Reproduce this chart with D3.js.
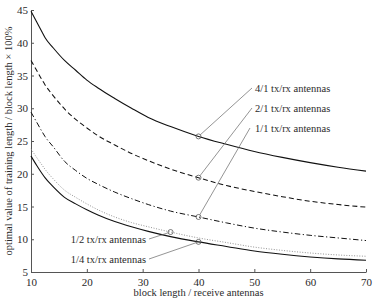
<!DOCTYPE html>
<html>
<head>
<meta charset="utf-8">
<script src="https://cdn.jsdelivr.net/npm/d3@7"></script>
<style>
  html, body { margin: 0; padding: 0; background: #fff; }
  svg { display: block; }
  text { font-family: "Liberation Serif", "Times New Roman", serif; fill: #2a2a2a; }
</style>
</head>
<body>
<svg id="chart" width="374" height="299"></svg>
<script>
// ---- data ----
const blockLength = [10, 11, 12, 12.5, 14, 16, 18, 20, 22, 25, 28, 31, 35, 40, 45, 50, 55, 60, 65, 70];
const ratio4to1 = [44.8, 43.2, 41.6, 40.8, 39.2, 37.3, 35.8, 34.3, 33.1, 31.5, 30.0, 28.6, 27.2, 25.7, 24.5, 23.4, 22.5, 21.7, 21.0, 20.4];
const ratio2to1 = [37.3, 35.8, 34.3, 33.6, 31.9, 29.9, 28.3, 27.0, 25.8, 24.4, 23.1, 22.0, 20.7, 19.4, 18.2, 17.3, 16.5, 15.8, 15.3, 14.9];
const ratio1to1 = [29.4, 27.9, 26.4, 25.7, 24.1, 21.9, 20.5, 19.3, 18.4, 17.2, 16.2, 15.3, 14.3, 13.4, 12.5, 11.7, 11.1, 10.6, 10.2, 9.8];
const ratio1to2 = [23.8, 22.5, 21.3, 20.7, 19.2, 17.5, 16.4, 15.4, 14.5, 13.4, 12.55, 11.9, 11.1, 10.2, 9.5, 8.8, 8.3, 7.9, 7.6, 7.4];
const ratio1to4 = [22.7, 21.3, 20.0, 19.4, 18.0, 16.4, 15.4, 14.5, 13.7, 12.7, 11.9, 11.2, 10.4, 9.6, 8.9, 8.2, 7.7, 7.3, 7.0, 6.8];
const seriesNames = ["4/1 tx/rx antennas", "2/1 tx/rx antennas", "1/1 tx/rx antennas", "1/2 tx/rx antennas", "1/4 tx/rx antennas"];
const markerX = [40, 40, 40, 35, 40];
const xTicks = [10, 20, 30, 40, 50, 60, 70];
const yTicks = [5, 10, 15, 20, 25, 30, 35, 40, 45];
const xLabel = "block length / receive antennas";
const yLabel = "optimal value of  training length / block length \u00d7 100%";

// ---- layout ----
const svg = d3.select("#chart");
const x = d3.scaleLinear().domain([10, 70]).range([31, 366]);
const y = d3.scaleLinear().domain([5, 45]).range([272, 10]);

const seriesValues = [ratio4to1, ratio2to1, ratio1to1, ratio1to2, ratio1to4];
const styles = [
  { dash: null, color: "#111", width: 1.1 },
  { dash: "5,3", color: "#111", width: 1.05 },
  { dash: "5.5,2.5,1.2,2.5", color: "#111", width: 1.0 },
  { dash: "1,1.6", color: "#888", width: 0.9 },
  { dash: null, color: "#111", width: 1.1 }
];

// axes
const axisColor = "#555";
const gx = svg.append("g").attr("transform", `translate(0,${y(5)})`)
  .call(d3.axisBottom(x).tickValues(xTicks).tickSizeInner(-3).tickSizeOuter(0).tickPadding(6));
const gy = svg.append("g").attr("transform", `translate(${x(10)},0)`)
  .call(d3.axisLeft(y).tickValues(yTicks).tickSizeInner(-3).tickSizeOuter(0).tickPadding(6));
[gx, gy].forEach(g => {
  g.select(".domain").attr("stroke", axisColor).attr("stroke-width", 1);
  g.selectAll(".tick line").attr("stroke", axisColor);
  g.selectAll(".tick text").attr("font-size", 11);
});
gy.selectAll(".tick text").attr("dx", 3);

// curves
const line = d3.line().x(d => x(d[0])).y(d => y(d[1])).curve(d3.curveMonotoneX);
const curves = seriesValues.map(vals => blockLength.map((b, i) => [b, vals[i]]));
curves.forEach((pts, i) => {
  svg.append("path").datum(pts)
    .attr("d", line)
    .attr("fill", "none")
    .attr("stroke", styles[i].color)
    .attr("stroke-width", styles[i].width)
    .attr("stroke-dasharray", styles[i].dash);
});

// markers + annotations
function valueAt(vals, xv) {
  const idx = blockLength.indexOf(xv);
  if (idx >= 0) return vals[idx];
  const j = d3.bisectLeft(blockLength, xv);
  const t = (xv - blockLength[j - 1]) / (blockLength[j] - blockLength[j - 1]);
  return vals[j - 1] + t * (vals[j] - vals[j - 1]);
}
const labelPos = [
  { tx: 255, ty: 88, lx: 252, ly: 88, anchor: "start" },
  { tx: 255, ty: 108, lx: 252, ly: 108, anchor: "start" },
  { tx: 255, ty: 128, lx: 250, ly: 128, anchor: "start" },
  { tx: 146, ty: 239, lx: 149, ly: 239, anchor: "end" },
  { tx: 146, ty: 259, lx: 149, ly: 259, anchor: "end" }
];
seriesNames.forEach((name, i) => {
  const mx = x(markerX[i]), my = y(valueAt(seriesValues[i], markerX[i]));
  const p = labelPos[i];
  const dx = mx - p.lx, dy = my - p.ly, len = Math.hypot(dx, dy);
  svg.append("line")
    .attr("x1", p.lx).attr("y1", p.ly)
    .attr("x2", mx - dx / len * 2.5).attr("y2", my - dy / len * 2.5)
    .attr("stroke", "#666").attr("stroke-width", 0.7);
  svg.append("circle").attr("cx", mx).attr("cy", my).attr("r", 2.5)
    .attr("fill", "none").attr("stroke", "#555").attr("stroke-width", 0.8);
  svg.append("text").attr("x", p.tx).attr("y", p.ty).attr("dy", "0.35em")
    .attr("text-anchor", p.anchor).attr("font-size", 10.5).text(name);
});

// axis labels
svg.append("text").attr("x", (x(10) + x(70)) / 2).attr("y", 292).attr("dy", "0.35em")
  .attr("text-anchor", "middle").attr("font-size", 10.5).text(xLabel);
svg.append("text")
  .attr("transform", `translate(8,${(y(5) + y(45)) / 2}) rotate(-90)`)
  .attr("dy", "0.35em")
  .attr("text-anchor", "middle").attr("font-size", 10.5).text(yLabel);
</script>
</body>
</html>
